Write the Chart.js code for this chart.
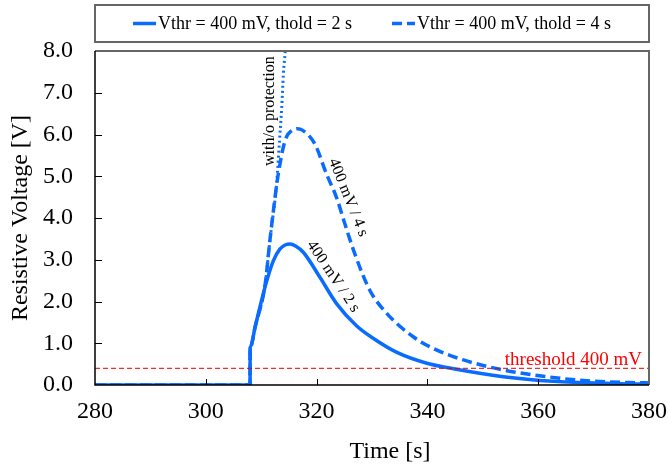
<!DOCTYPE html>
<html>
<head>
<meta charset="utf-8">
<script src="https://cdn.jsdelivr.net/npm/chart.js@4.4.1/dist/chart.umd.min.js"></script>
<style>
html, body { margin: 0; padding: 0; background: #fff; }
</style>
</head>
<body>
<canvas id="chartVolt" width="668" height="468"></canvas>
<script>
// ejes
const timeMin = 280, timeMax = 380, timeStep = 20;
const voltMin = 0, voltMax = 8, voltStep = 1;
const thresholdV = 0.4;

// Vthr = 400 mV, thold = 2 s
const time2s = [280, 307.99, 308, 308.05, 308.9, 310.7, 312.2, 313.4, 314.4, 315.2, 316.2, 317.6, 320.6, 323.6, 327.2, 330.2, 334.5, 339.9, 344.7, 353.7, 362.7, 374.8, 380];
const volt2s = [0, 0, 0.88, 0.91, 1.39, 2.35, 2.98, 3.26, 3.36, 3.38, 3.33, 3.18, 2.58, 1.95, 1.42, 1.12, 0.78, 0.52, 0.39, 0.20, 0.09, 0.03, 0.02];

// Vthr = 400 mV, thold = 4 s
const time4s = [280, 307.99, 308, 308.05, 308.9, 310.7, 311.6, 312.8, 313.4, 314.0, 314.6, 315.4, 316.5, 317.5, 319.7, 321.8, 323.6, 325.1, 326.9, 329.6, 332.7, 337.5, 341.0, 346.5, 353.7, 361.5, 368.8, 377.8, 380];
const volt4s = [0, 0, 0.88, 0.91, 1.39, 2.4, 3.5, 4.8, 5.3, 5.7, 5.95, 6.08, 6.14, 6.1, 5.77, 5.05, 4.49, 3.86, 3.14, 2.27, 1.71, 1.15, 0.88, 0.6, 0.36, 0.2, 0.1, 0.055, 0.05];

// sin proteccion
const timeNoProt = [280, 307.99, 308, 308.05, 308.9, 310.7, 311.6, 312.8, 313.3, 313.7, 314.0, 314.35];
const voltNoProt = [0, 0, 0.88, 0.91, 1.39, 2.4, 3.5, 4.85, 5.85, 6.64, 7.44, 8.0];

// textos sobre las curvas (posicion en unidades de datos, angulo en grados)
const noteTexts = ['with/o protection', '400 mV / 4 s', '400 mV / 2 s'];
const noteTimes = [311.6, 325.7, 323.0];
const noteVolts = [6.56, 4.49, 2.6];
const noteAngles = [-90, 68, 56];
const thresholdText = 'threshold 400 mV';
const xTitle = 'Time [s]';

const blue = '#0a6cff';
const serif = '"Liberation Serif", "Times New Roman", serif';

function toPoints(xs, ys) {
    return xs.map((x, i) => ({ x: x, y: ys[i] }));
}

Chart.defaults.font.family = serif;
Chart.defaults.color = '#000';

// marco, marcas de ejes, leyenda y notas
const decoPlugin = {
    id: 'deco',
    afterDatasetsDraw(chart) {
        const ctx = chart.ctx;
        const a = chart.chartArea;
        const xs = chart.scales.x, ys = chart.scales.y;
        ctx.save();

        // marcas hacia adentro
        ctx.strokeStyle = '#000';
        ctx.lineWidth = 1;
        xs.ticks.forEach(t => {
            if (t.value === timeMin || t.value === timeMax) return;
            const px = Math.round(xs.getPixelForValue(t.value)) + 0.5;
            ctx.beginPath(); ctx.moveTo(px, a.bottom); ctx.lineTo(px, a.bottom - 6); ctx.stroke();
        });
        ys.ticks.forEach(t => {
            if (t.value === voltMin || t.value === voltMax) return;
            const py = Math.round(ys.getPixelForValue(t.value)) + 0.5;
            ctx.beginPath(); ctx.moveTo(a.left, py); ctx.lineTo(a.left + 7, py); ctx.stroke();
        });

        // marco
        ctx.strokeStyle = '#666';
        ctx.lineWidth = 2;
        ctx.beginPath();
        ctx.moveTo(a.left, a.top); ctx.lineTo(a.right, a.top); ctx.lineTo(a.right, a.bottom);
        ctx.stroke();
        ctx.strokeStyle = '#000';
        ctx.lineWidth = 1.5;
        ctx.beginPath();
        ctx.moveTo(a.left, a.top); ctx.lineTo(a.left, a.bottom); ctx.lineTo(a.right, a.bottom);
        ctx.stroke();

        // notas
        ctx.fillStyle = '#000';
        ctx.font = '16px ' + serif;
        ctx.textAlign = 'center';
        ctx.textBaseline = 'middle';
        noteTexts.forEach((txt, i) => {
            ctx.save();
            ctx.translate(xs.getPixelForValue(noteTimes[i]), ys.getPixelForValue(noteVolts[i]));
            ctx.rotate(noteAngles[i] * Math.PI / 180);
            ctx.fillText(txt, 0, 0);
            ctx.restore();
        });
        ctx.fillStyle = '#ff0000';
        ctx.font = '19px ' + serif;
        ctx.textAlign = 'right';
        ctx.textBaseline = 'alphabetic';
        ctx.fillText(thresholdText, a.right - 7, ys.getPixelForValue(thresholdV) - 3);

        // titulo eje x
        ctx.fillStyle = '#000';
        ctx.font = '24px ' + serif;
        ctx.textAlign = 'center';
        ctx.textBaseline = 'middle';
        ctx.fillText(xTitle, (a.left + a.right) / 2 + 18, 452);

        // leyenda
        const boxTop = 5, boxH = 37;
        ctx.strokeStyle = '#666';
        ctx.lineWidth = 2;
        ctx.strokeRect(a.left, boxTop, a.right - a.left, boxH);
        ctx.font = '18px ' + serif;
        const items = chart.data.datasets.filter(d => d.inLegend).reverse();
        const sample = 23, gap = 2, spacing = 40;
        const widths = items.map(d => sample + gap + ctx.measureText(d.label).width);
        const total = widths.reduce((s, w) => s + w, 0) + spacing * (items.length - 1);
        let cx = (a.left + a.right) / 2 - total / 2;
        const cy = boxTop + boxH / 2;
        ctx.textAlign = 'left';
        ctx.textBaseline = 'middle';
        items.forEach((d, i) => {
            ctx.strokeStyle = d.borderColor;
            ctx.lineWidth = 3.5;
            ctx.setLineDash(d.borderDash || []);
            ctx.beginPath(); ctx.moveTo(cx, cy); ctx.lineTo(cx + sample, cy); ctx.stroke();
            ctx.setLineDash([]);
            ctx.fillStyle = '#000';
            ctx.fillText(d.label, cx + sample + gap, cy + 1);
            cx += widths[i] + spacing;
        });
        ctx.restore();
    }
};

const ctxVolt = document.getElementById('chartVolt').getContext('2d');
new Chart(ctxVolt, {
    type: 'line',
    data: {
        datasets: [
            {
                label: 'threshold',
                data: toPoints([timeMin, timeMax], [thresholdV, thresholdV]),
                borderColor: '#e00000',
                borderWidth: 1,
                borderDash: [5, 3],
                pointRadius: 0,
                inLegend: false
            },
            {
                label: 'with/o protection',
                data: toPoints(timeNoProt, voltNoProt),
                borderColor: blue,
                borderWidth: 3,
                borderDash: [2, 3],
                pointRadius: 0,
                cubicInterpolationMode: 'monotone',
                inLegend: false
            },
            {
                label: 'Vthr = 400 mV, thold = 4 s',
                data: toPoints(time4s, volt4s),
                borderColor: blue,
                borderWidth: 3.5,
                borderDash: [10, 5],
                pointRadius: 0,
                cubicInterpolationMode: 'monotone',
                inLegend: true
            },
            {
                label: 'Vthr = 400 mV, thold = 2 s',
                data: toPoints(time2s, volt2s),
                borderColor: blue,
                borderWidth: 3.5,
                pointRadius: 0,
                cubicInterpolationMode: 'monotone',
                inLegend: true
            }
        ]
    },
    options: {
        responsive: false,
        animation: false,
        layout: { padding: { top: 51, right: 19, left: 0, bottom: 0 } },
        plugins: {
            legend: { display: false },
            tooltip: { enabled: false }
        },
        scales: {
            x: {
                type: 'linear',
                min: timeMin,
                max: timeMax,
                grid: { display: false, drawTicks: false },
                border: { display: false },
                ticks: {
                    stepSize: timeStep,
                    padding: 12,
                    font: { size: 24 }
                },
                title: { display: false },
                afterFit(scale) {
                    scale.height = 83;
                    scale.paddingLeft = 0;
                    scale.paddingRight = 0;
                }
            },
            y: {
                min: voltMin,
                max: voltMax,
                grid: { display: false, drawTicks: false },
                border: { display: false },
                ticks: {
                    stepSize: voltStep,
                    padding: 22,
                    font: { size: 24 },
                    callback: v => v.toFixed(1)
                },
                title: {
                    display: true,
                    text: 'Resistive Voltage [V]',
                    font: { size: 24 },
                    padding: { top: 6, bottom: 0 }
                },
                afterFit(scale) { scale.width = 95; }
            }
        }
    },
    plugins: [decoPlugin]
});
</script>
</body>
</html>
